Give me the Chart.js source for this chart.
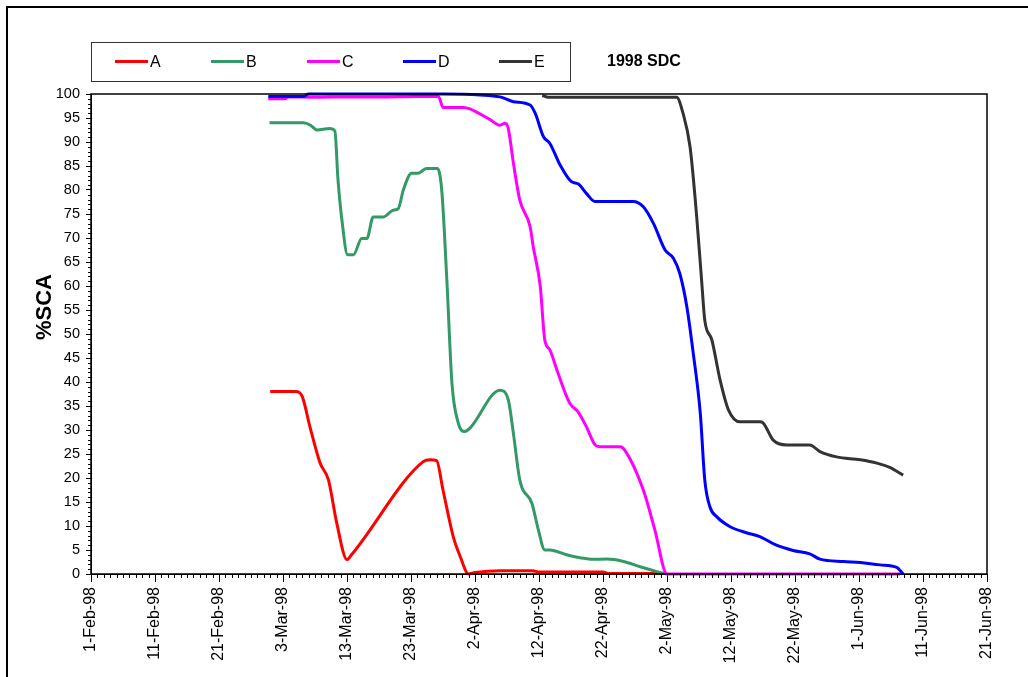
<!DOCTYPE html>
<html lang="en">
<head>
  <meta charset="UTF-8" /><meta name="viewport" content="width=device-width,initial-scale=1" />
  <title>1998 SDC</title>
  <script src="https://cdn.jsdelivr.net/npm/chart.js"></script>
  <style>
    body {margin:0; background:#fff; font-family:"Liberation Sans", Arial, sans-serif; overflow:hidden;}
    #frame {position:absolute; left:6px; top:6px; width:1100px; height:800px; border:2px solid #000;}
    #wrap {position:absolute; left:0; top:0; width:1028px; height:677px;}
    #legend {position:absolute; left:91px; top:42px; width:478px; height:38px; border:1px solid #333; background:#fff;}
    .item {position:absolute; top:9px; font-size:16px; line-height:20px; color:#000;}
    .item span {display:inline-block; width:33px; height:3px; vertical-align:middle; margin-right:2px; margin-top:-2px;}
    #tag {position:absolute; left:607px; top:52px; font-weight:bold; font-size:16px;}
    #ytitle {position:absolute; left:44px; top:307px; transform:translate(-50%,-50%) rotate(-90deg); font-weight:bold; font-size:22px; white-space:nowrap;}
  </style>
</head>
<body>
  <div id="frame"></div>
  <div id="wrap"><canvas id="chart"></canvas></div>
  <div id="legend"></div>
  <div id="tag">1998 SDC</div>
  <div id="ytitle">%SCA</div>

  <script>
    // days counted from 1-Feb-98
    const xTickLabels = ['1-Feb-98','11-Feb-98','21-Feb-98','3-Mar-98','13-Mar-98','23-Mar-98','2-Apr-98',
      '12-Apr-98','22-Apr-98','2-May-98','12-May-98','22-May-98','1-Jun-98','11-Jun-98','21-Jun-98'];

    const seriesNames = ['A','B','C','D','E'];
    const seriesColors = ['#ff0000','#339966','#ff00ff','#0000ff','#333333'];

    const aDays = [28,32,33,34.2,35.8,37.1,38.4,40,40.7,51.9,53,54,55,56.6,57.7,59,60,64,69,70,80,81,90];
    const aVals = [38,38,37,30.7,23.1,19.6,10.6,3,4,23.4,23.8,23.6,17.5,7.8,3.6,0,0.3,0.7,0.7,0.4,0.4,0.1,0.1];

    const bDays = [27.9,33.2,34.3,35.3,37.3,38.1,38.6,39.2,40.1,41,42.3,43.1,44.1,45.7,47.2,48,48.8,50.1,51.1,52.4,54.1,54.8,
      55.6,56.4,57.4,58.4,59.2,63.9,65.2,66,67,68.9,69.9,70.9,71.7,74.3,76.4,78.5,80.6,83.2,85.8,88.4,90];
    const bVals = [94,94,93.5,92.5,92.8,92.3,82,73.8,66.5,66.5,69.9,69.9,74.4,74.4,75.8,76.1,80,83.5,83.5,84.5,84.5,80,
      61.3,39.7,31.4,29.7,30.4,38.3,36.3,29.3,19.6,14.7,9.2,5,5,4,3.4,3.05,3.1,2.6,1.5,0.5,0];

    const cDays = [27.7,30.3,30.8,35,40,45,51,54.3,55,58.2,59.2,62.3,63.9,64.7,65.2,66,67,68.6,69.1,70.2,70.9,71.7,72.8,
      74.8,76.1,77.4,78.75,79.5,82.7,83.4,86.3,88.1,90,126.4];
    const cVals = [99,99,99.4,99.3,99.4,99.4,99.5,99.5,97.2,97.2,96.9,94.7,93.5,93.9,92.8,85.6,77.9,72.4,68.2,59.9,48.8,46.7,42.5,
      35.6,33.8,30.7,26.9,26.5,26.5,25.8,17.5,9.2,0,0];

    const dDays = [27.7,33.2,34,55,60.8,63.9,66,68.6,69.4,70.7,71.7,73.3,75.1,76.1,77.4,78.75,84.7,86.3,87.9,89.7,91,92,93.1,
      94.1,95.2,95.9,96.7,97.8,99.8,102.4,104.5,107.1,109.7,112.3,113.9,117.6,120.2,123.3,125.9,126.9];
    const dVals = [99.5,99.5,100,100,99.8,99.4,98.4,97.7,96,91.1,89.7,85.2,81.7,81.3,79.3,77.6,77.6,76.5,73,67.5,65.8,62.6,55.7,
      46,33.5,19.6,14,11.9,9.9,8.6,7.8,6,4.9,4.2,3.1,2.6,2.4,1.9,1.4,0];

    const eDays = [70.5,71.5,91.5,92.5,93.6,94.6,95.4,95.9,97,98.3,99.6,101.4,104.5,105,106.6,108.7,112.3,113.9,116.5,120.2,122.8,124.8,126.9];
    const eVals = [99.7,99.3,99.3,96,89,75.1,61.3,52.9,48.8,40.4,34.2,31.7,31.7,31.5,27.9,26.9,26.9,25.5,24.4,23.8,23.1,22.2,20.6];

    const allDays = [aDays, bDays, cDays, dDays, eDays];
    const allVals = [aVals, bVals, cVals, dVals, eVals];

    // HTML legend like the Excel one
    const legend = document.getElementById('legend');
    seriesNames.forEach((n, i) => {
      const el = document.createElement('div');
      el.className = 'item';
      el.style.left = (23 + i * 96) + 'px';
      el.innerHTML = '<span style="background:' + seriesColors[i] + '"></span>' + n;
      legend.appendChild(el);
    });

    // short ticks between the labelled ones + box round the plot
    const minorTicks = {
      id: 'minorTicks',
      afterDraw(chart) {
        const {ctx, chartArea: a, scales: {x, y}} = chart;
        ctx.save();
        ctx.strokeStyle = '#000';
        ctx.lineWidth = 1;
        ctx.beginPath();
        for (let d = 0; d <= 140; d++) {
          if (d % 10 === 0) continue;
          const px = Math.round(x.getPixelForValue(d)) + 0.5;
          ctx.moveTo(px, a.bottom); ctx.lineTo(px, a.bottom + 4);
        }
        for (let v = 0; v <= 100; v++) {
          if (v % 5 === 0) continue;
          const py = Math.round(y.getPixelForValue(v)) + 0.5;
          ctx.moveTo(a.left - 3, py); ctx.lineTo(a.left, py);
        }
        ctx.stroke();
        ctx.lineWidth = 1.5;
        ctx.strokeRect(a.left, a.top, a.right - a.left, a.bottom - a.top);
        ctx.restore();
      }
    };

    const font = {family: '"Liberation Sans", Arial, sans-serif'};

    new Chart(document.getElementById('chart'), {
      type: 'line',
      data: {
        datasets: seriesNames.map((n, i) => ({
          label: n,
          data: allDays[i].map((d, k) => ({x: d, y: allVals[i][k]})),
          borderColor: seriesColors[i],
          backgroundColor: seriesColors[i],
          borderWidth: 3,
          pointRadius: 0,
          tension: 0.3,
          cubicInterpolationMode: 'monotone',
          clip: false,
          order: 5 - i
        }))
      },
      options: {
        responsive: true,
        maintainAspectRatio: false,
        animation: false,
        layout: {padding: {left: 0, top: 94, right: 41, bottom: 0}},
        plugins: {legend: {display: false}, tooltip: {enabled: false}},
        scales: {
          x: {
            type: 'linear', min: 0, max: 140,
            afterFit: s => { s.height = 103; },
            grid: {drawOnChartArea: false, drawTicks: true, tickLength: 8, color: '#000'},
            border: {display: true, color: '#000', width: 1},
            ticks: {
              stepSize: 10, autoSkip: false, minRotation: 90, maxRotation: 90, padding: 5,
              color: '#000', font: {...font, size: 16},
              callback: v => xTickLabels[v / 10]
            }
          },
          y: {
            min: 0, max: 100,
            afterFit: s => { s.width = 91; },
            grid: {drawOnChartArea: false, drawTicks: true, tickLength: 5, color: '#000'},
            border: {display: true, color: '#000', width: 1},
            ticks: {stepSize: 5, padding: 6, color: '#000', font: {...font, size: 14.5}}
          }
        }
      },
      plugins: [minorTicks]
    });
  </script>
</body>
</html>
